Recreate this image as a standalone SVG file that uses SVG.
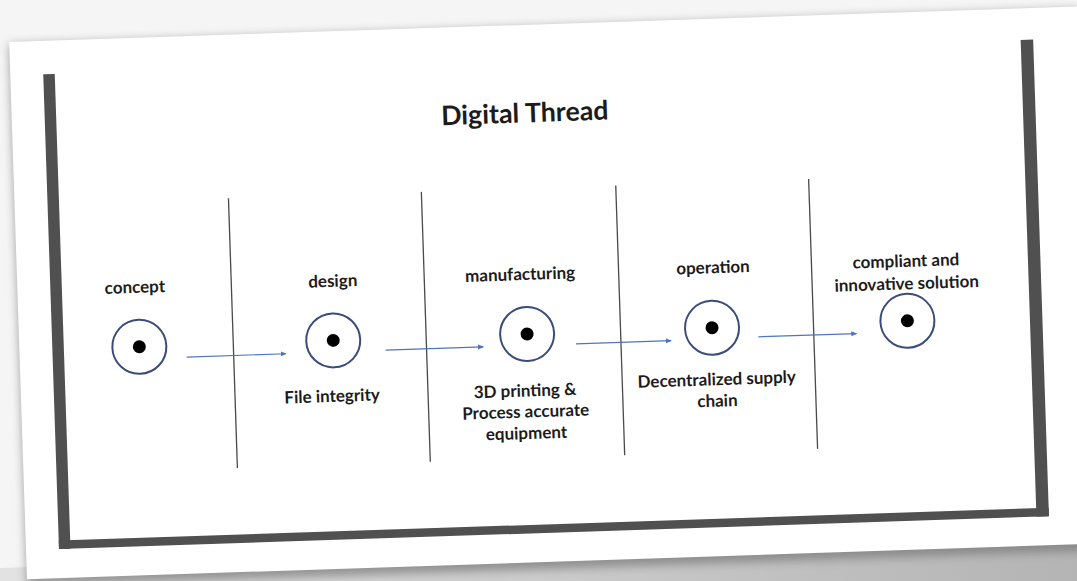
<svg xmlns="http://www.w3.org/2000/svg" width="1077" height="581" viewBox="0 0 1077 581">
<defs>
<style>
.lbl{font-family:Lato,"Open Sans","Liberation Sans",sans-serif;font-weight:700;font-size:17px;fill:#1c1c1c;text-anchor:middle}
.title{font-size:26.8px}
.ring{fill:none;stroke:#3c4c7a;stroke-width:2}
.dot{fill:#000}
.sep{stroke:#4a4a4a;stroke-width:1.3}
.bar{fill:#505050}
.conn{stroke:#4f74c0;stroke-width:1.2;fill:none;marker-end:url(#ah)}
</style>
<marker id="ah" viewBox="0 0 6 6" refX="5" refY="3" markerWidth="6" markerHeight="6" markerUnits="userSpaceOnUse" orient="auto"><path d="M0,0.5 L6,3 L0,5.5z" fill="#4f74c0"/></marker>
<filter id="sh" x="-10%" y="-10%" width="120%" height="130%"><feGaussianBlur stdDeviation="5"/></filter>
<linearGradient id="bg" x1="0" y1="0" x2="1" y2="0"><stop offset="0" stop-color="#e2e2e2"/><stop offset="1" stop-color="#b4b4b4"/></linearGradient>
</defs>
<rect width="1077" height="581" fill="#f5f5f5"/>
<polygon points="0,568 1077,534 1077,581 0,581" fill="url(#bg)"/>
<g transform="rotate(-1.9 540 300)">
<rect x="18" y="27" width="1070" height="542" fill="#777" opacity="0.7" filter="url(#sh)"/>
<rect x="18" y="24.5" width="1070" height="537.5" fill="#fff"/>
<g id="frame">
<rect class="bar" x="51" y="58" width="11.5" height="475"/>
<rect class="bar" x="51" y="524.5" width="990.5" height="8.5"/>
<rect class="bar" x="1029" y="56" width="12.5" height="477"/>
</g>
<text id="title" class="lbl title" x="531" y="122">Digital Thread</text>
<g id="dividers">
<line class="sep" x1="232" y1="188" x2="232" y2="458"/>
<line class="sep" x1="425" y1="188" x2="425" y2="458"/>
<line class="sep" x1="619.5" y1="188" x2="619.5" y2="458"/>
<line class="sep" x1="812.5" y1="188" x2="812.5" y2="458"/>
</g>
<g id="node-concept">
<text class="lbl" x="135.5" y="279.5">concept</text>
<circle class="ring" cx="138" cy="333.5" r="27"/>
<circle class="dot" cx="138" cy="333.5" r="6.5"/>
</g>
<g id="node-design">
<text class="lbl" x="333.5" y="280">design</text>
<circle class="ring" cx="332" cy="333.5" r="27"/>
<circle class="dot" cx="332" cy="333.5" r="6.5"/>
<text class="lbl" x="329" y="395">File integrity</text>
</g>
<g id="node-manufacturing">
<text class="lbl" x="521" y="279.5">manufacturing</text>
<circle class="ring" cx="526" cy="333.5" r="27"/>
<circle class="dot" cx="526" cy="333.5" r="6.5"/>
<text class="lbl" x="522" y="396">3D printing &amp;</text>
<text class="lbl" x="522" y="417">Process accurate</text>
<text class="lbl" x="522" y="438.5">equipment</text>
</g>
<g id="node-operation">
<text class="lbl" x="714" y="279">operation</text>
<circle class="ring" cx="711" cy="333.5" r="27"/>
<circle class="dot" cx="711" cy="333.5" r="6.5"/>
<text class="lbl" x="714" y="391">Decentralized supply</text>
<text class="lbl" x="714" y="412.5">chain</text>
</g>
<g id="node-solution">
<text class="lbl" x="907" y="279">compliant and</text>
<text class="lbl" x="907" y="301.5">innovative solution</text>
<circle class="ring" cx="906.5" cy="333" r="27"/>
<circle class="dot" cx="906.5" cy="333" r="6.5"/>
</g>
<g id="connectors">
<line class="conn" x1="185" y1="345.3" x2="284" y2="345.3"/>
<line class="conn" x1="384" y1="345" x2="481.5" y2="345"/>
<line class="conn" x1="574.5" y1="345" x2="669.5" y2="345"/>
<line class="conn" x1="757" y1="344" x2="855" y2="344"/>
</g>
</g>
</svg>
